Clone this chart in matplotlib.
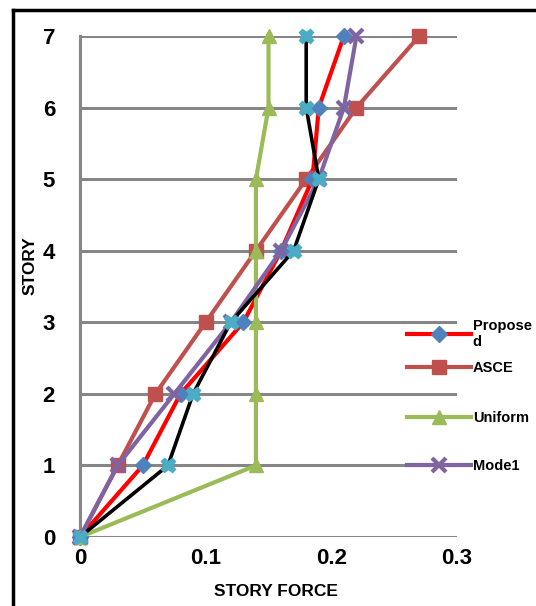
import matplotlib.pyplot as plt
from matplotlib.lines import Line2D

# story levels and story force distributions
stories = [0, 1, 2, 3, 4, 5, 6, 7]
proposed = [0, 0.05, 0.08, 0.13, 0.16, 0.185, 0.19, 0.21]
asce = [0, 0.03, 0.06, 0.10, 0.14, 0.18, 0.22, 0.27]
uniform = [0, 0.14, 0.14, 0.14, 0.14, 0.14, 0.15, 0.15]
mode1 = [0, 0.03, 0.075, 0.12, 0.16, 0.19, 0.21, 0.22]
other = [0, 0.07, 0.09, 0.12, 0.17, 0.19, 0.18, 0.18]

x_ticks = [0, 0.1, 0.2, 0.3]
x_tick_labels = ['0', '0.1', '0.2', '0.3']
legend_labels = ['Propose\nd', 'ASCE', 'Uniform', 'Mode1']

plt.rcParams['font.family'] = ['Liberation Sans', 'DejaVu Sans']

W, H = 536, 606
fig = plt.figure(figsize=(W / 100, H / 100), dpi=100)
ax = fig.add_axes([80 / W, 1 - 537 / H, (457 - 80) / W, (537 - 36) / H])

lw = 3
h_asce, = ax.plot(asce, stories, color='#C0504D', lw=lw, marker='s', ms=9.5,
                  mfc='#C0504D', mec='#C0504D', clip_on=False, zorder=3)
h_prop, = ax.plot(proposed, stories, color='#FF0000', lw=lw, marker='D', ms=8,
                  mfc='#4F81BD', mec='#4F81BD', clip_on=False, zorder=4)
h_unif, = ax.plot(uniform, stories, color='#9BBB59', lw=lw, marker='^', ms=9.5,
                  mfc='#9BBB59', mec='#9BBB59', clip_on=False, zorder=5)
h_mode, = ax.plot(mode1, stories, color='#8064A2', lw=lw, marker='x', ms=9.5,
                  mew=3, mec='#8064A2', clip_on=False, zorder=6)
ax.plot(other, stories, color='black', lw=2.6, marker='X', ms=10.5,
        mfc='#4BACC6', mec='#4BACC6', clip_on=False, zorder=7)

ax.set_xlim(0, 0.3)
ax.set_ylim(0, 7)
ax.set_xticks(x_ticks)
ax.set_xticklabels(x_tick_labels)
ax.set_yticks(stories)
ax.tick_params(axis='y', length=0, labelsize=16, pad=18)
ax.tick_params(axis='x', length=0, labelsize=16, pad=8)
for lab in ax.get_xticklabels() + ax.get_yticklabels():
    lab.set_fontweight('bold')
ax.yaxis.grid(True, color='#868686', lw=2.2)
ax.set_axisbelow(True)
for s in ['top', 'right', 'bottom']:
    ax.spines[s].set_visible(False)
ax.spines['left'].set_color('#868686')
ax.spines['left'].set_linewidth(2.2)

fig.text(276 / W, 1 - 592 / H, 'STORY FORCE', fontsize=12.5,
         fontweight='bold', ha='center', va='center')
fig.text(30 / W, 1 - 266 / H, 'STORY', rotation=90, fontsize=12.5,
         fontweight='bold', ha='center', va='center')

# one legend box per entry so the rows sit where they do in the original
handles = [h_prop, h_asce, h_unif, h_mode]
rows_y = [334, 368, 418, 466]
for h, lab, y in zip(handles, legend_labels, rows_y):
    leg = fig.legend([h], [lab], loc='center left',
                     bbox_to_anchor=(407 / W, 1 - y / H),
                     frameon=False, fontsize=10.5, handlelength=4.4,
                     handletextpad=0.1, borderpad=0, borderaxespad=0)
    for t in leg.get_texts():
        t.set_fontweight('bold')

# outer chart frame, only left and top edges are inside the picture
fx, fy = 13 / W, 1 - 10 / H
fig.add_artist(Line2D([fx, fx], [0, fy], transform=fig.transFigure,
                      color='black', lw=2.5))
fig.add_artist(Line2D([fx, 1], [fy, fy], transform=fig.transFigure,
                      color='black', lw=2.5, solid_capstyle='projecting'))

fig.savefig('out.png', dpi=100)
